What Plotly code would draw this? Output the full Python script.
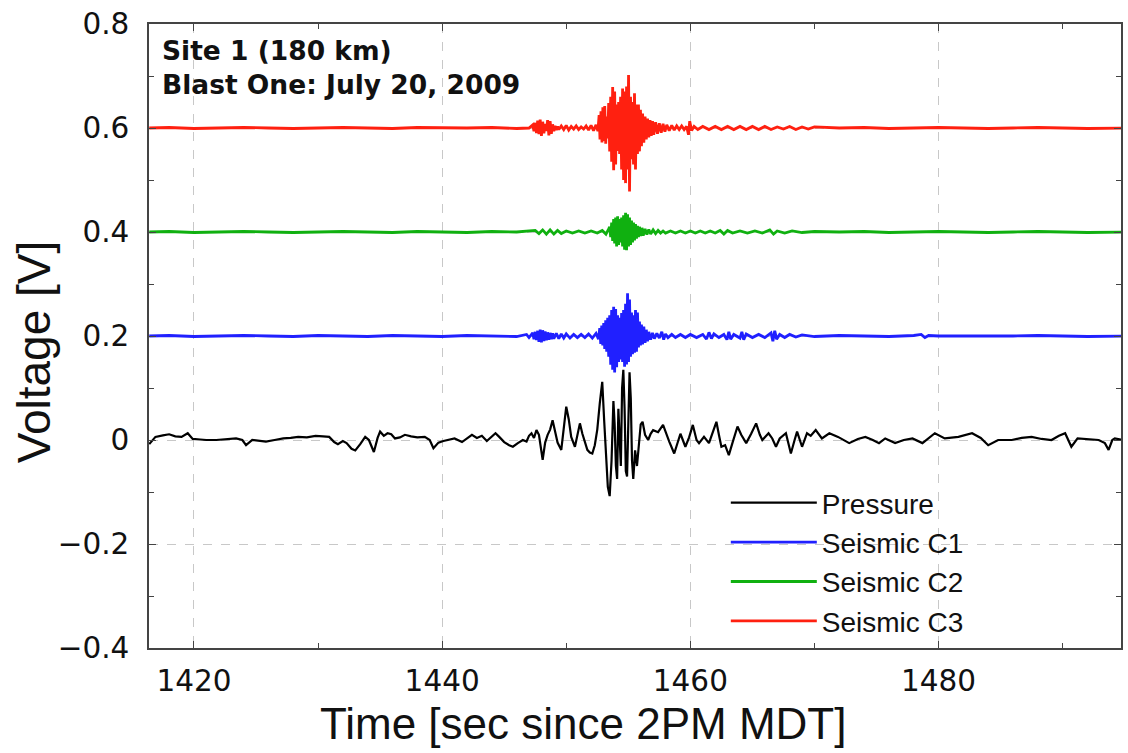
import plotly.graph_objects as go

# ---------------- data ----------------
pressure_t = [1416.4, 1416.9, 1417.5, 1418.0, 1418.5, 1419.0, 1419.5, 1419.9, 1420.5, 1421.0,
              1421.8, 1422.6, 1423.4, 1423.9, 1424.2, 1424.7, 1425.2, 1425.8, 1426.5, 1427.2,
              1427.8, 1428.4, 1429.1, 1429.8, 1430.4, 1430.9, 1431.3, 1431.6, 1432.0, 1432.3,
              1432.7, 1433.0, 1433.4, 1433.8, 1434.1, 1434.5, 1434.8, 1435.0, 1435.3, 1435.6,
              1435.9, 1436.2, 1436.6, 1437.0, 1437.5, 1438.0, 1438.6, 1439.0, 1439.3, 1439.7,
              1440.1, 1440.5, 1441.0, 1441.6, 1442.0, 1442.4, 1442.8, 1443.2, 1443.6, 1444.0,
              1444.3, 1444.6, 1445.0, 1445.4, 1445.7, 1446.1, 1446.5, 1446.8, 1447.0, 1447.2,
              1447.4, 1447.6, 1447.8, 1448.1, 1448.3, 1448.5, 1448.7, 1448.9, 1449.1, 1449.3,
              1449.6, 1449.8, 1450.0, 1450.2, 1450.4, 1450.7, 1450.9, 1451.1, 1451.3, 1451.5,
              1451.7, 1451.9, 1452.1, 1452.3, 1452.5, 1452.7, 1452.9, 1453.05, 1453.2, 1453.35,
              1453.5, 1453.65, 1453.8, 1453.9, 1454.0, 1454.1, 1454.2, 1454.3, 1454.4, 1454.5,
              1454.6, 1454.7, 1454.8, 1454.9, 1455.0, 1455.1, 1455.2, 1455.3, 1455.4, 1455.55,
              1455.7, 1455.85, 1456.0, 1456.15, 1456.35, 1456.6, 1456.8, 1457.0, 1457.4, 1457.8,
              1458.0, 1458.3, 1458.7, 1459.0, 1459.2, 1459.6, 1459.9, 1460.2, 1460.5, 1460.7,
              1461.1, 1461.5, 1461.8, 1462.1, 1462.3, 1462.5, 1462.8, 1463.1, 1463.4, 1463.8,
              1464.1, 1464.5, 1464.9, 1465.3, 1465.6, 1465.8, 1466.3, 1466.6, 1466.9, 1467.2,
              1467.7, 1468.1, 1468.4, 1468.6, 1469.0, 1469.4, 1469.7, 1470.1, 1470.6, 1471.2,
              1471.9, 1472.8, 1473.5, 1474.1, 1474.7, 1475.2, 1475.7, 1476.5, 1477.2, 1477.9,
              1478.7, 1479.7, 1480.5, 1481.6, 1482.7, 1483.4, 1484.0, 1484.8, 1485.9, 1486.7,
              1487.5, 1488.3, 1489.1, 1489.7, 1490.2, 1490.7, 1491.2, 1492.0, 1492.9, 1493.4,
              1493.7, 1494.0, 1494.2, 1494.9]
pressure_v = [-0.008, 0.006, 0.009, 0.011, 0.007, 0.006, 0.013, 0.002, 0.001, 0.000,
              0.000, 0.002, 0.003, 0.000, -0.010, 0.000, -0.002, -0.003, 0.000, 0.003,
              0.004, 0.006, 0.005, 0.008, 0.007, 0.006, -0.004, -0.008, -0.002, -0.006,
              -0.017, -0.020, -0.008, 0.006, 0.000, -0.023, 0.004, 0.016, 0.008, 0.013,
              0.011, 0.003, 0.005, 0.010, 0.007, 0.005, 0.006, 0.000, -0.016, -0.005,
              -0.002, 0.000, 0.003, -0.004, 0.003, 0.010, 0.004, 0.008, -0.002, 0.006,
              0.013, 0.006, -0.004, -0.010, -0.013, -0.006, 0.000, -0.003, 0.008, 0.013,
              0.004, 0.019, 0.010, -0.038, -0.005, 0.010, 0.020, 0.038, 0.015, -0.005,
              -0.019, 0.020, 0.064, 0.040, 0.006, -0.013, 0.010, 0.032, 0.012, -0.005,
              -0.019, -0.024, -0.026, -0.010, 0.020, 0.070, 0.112, 0.040, -0.040, -0.090,
              -0.108, -0.040, 0.075, 0.030, -0.050, -0.075, 0.060, 0.000, -0.050, 0.100,
              0.135, 0.060, -0.060, -0.070, 0.020, 0.130, 0.080, -0.040, -0.075, -0.020,
              -0.050, 0.000, 0.030, 0.035, 0.010, 0.000, 0.012, 0.019, 0.015, 0.029,
              0.015, -0.003, -0.026, -0.005, 0.012, -0.013, 0.005, 0.029, 0.000, -0.006,
              0.006, -0.006, 0.015, 0.035, 0.010, -0.013, -0.010, -0.029, -0.005, 0.026,
              0.010, -0.006, 0.012, 0.032, 0.010, 0.000, 0.013, 0.003, -0.013, 0.003,
              0.013, -0.026, 0.000, 0.016, -0.013, 0.013, 0.008, 0.019, 0.003, 0.013,
              0.006, -0.006, 0.002, 0.006, 0.000, -0.006, 0.003, -0.006, 0.000, 0.003,
              -0.006, 0.013, 0.003, 0.006, 0.013, 0.004, -0.010, 0.000, 0.000, 0.004,
              0.006, 0.002, 0.000, 0.008, 0.013, -0.013, 0.003, 0.002, 0.000, -0.006,
              -0.019, 0.000, 0.003, 0.000]

c1_t = [1416.4, 1418, 1420, 1422, 1424, 1426, 1428, 1430, 1432, 1434, 1436, 1438, 1440, 1442, 1444, 1446,
        1446.8, 1447.0, 1447.3, 1447.4, 1447.5, 1447.6, 1447.7, 1447.8, 1447.9, 1448.0, 1448.1, 1448.2,
        1448.3, 1448.4, 1448.5, 1448.6, 1448.7, 1448.8, 1448.9, 1449.0, 1449.2, 1449.4, 1449.6, 1449.8,
        1450.0, 1450.3, 1450.6, 1450.9, 1451.2, 1451.5, 1451.8, 1452.1, 1452.4, 1452.6,
        1452.7, 1452.78, 1452.86, 1452.94, 1453.02, 1453.1, 1453.18, 1453.26, 1453.34, 1453.42,
        1453.5, 1453.58, 1453.66, 1453.74, 1453.82, 1453.9, 1453.98, 1454.06, 1454.14, 1454.22,
        1454.3, 1454.38, 1454.46, 1454.54, 1454.62, 1454.7, 1454.78, 1454.86, 1454.94, 1455.02,
        1455.1, 1455.18, 1455.26, 1455.34, 1455.42, 1455.5, 1455.58, 1455.66, 1455.74, 1455.82,
        1455.9, 1455.98, 1456.06, 1456.15, 1456.25, 1456.35, 1456.45, 1456.55, 1456.65, 1456.8,
        1456.95, 1457.1, 1457.3, 1457.5, 1457.7, 1457.85, 1458.0, 1458.2, 1458.5, 1458.8,
        1459.2, 1459.6, 1460.0, 1460.5, 1461.0, 1461.3, 1461.5, 1461.7, 1461.9, 1462.3,
        1462.7, 1462.95, 1463.1, 1463.25, 1463.5, 1464.0, 1464.15, 1464.3, 1464.5, 1465.0,
        1465.5, 1466.0, 1466.5, 1466.65, 1466.8, 1466.95, 1467.2, 1467.6, 1468.0, 1468.5,
        1469.0, 1470.0, 1472, 1474, 1476, 1478, 1478.6, 1478.9, 1479.2, 1480, 1482, 1484, 1486, 1488,
        1490, 1492, 1494.9]
c1_v = [0.200, 0.201, 0.199, 0.200, 0.201, 0.200, 0.199, 0.201, 0.200, 0.199, 0.201, 0.200, 0.199, 0.201, 0.200, 0.199,
        0.203, 0.197, 0.206, 0.194, 0.208, 0.192, 0.210, 0.189, 0.212, 0.188, 0.211, 0.190,
        0.209, 0.192, 0.207, 0.193, 0.206, 0.194, 0.205, 0.195, 0.205, 0.195, 0.204, 0.196,
        0.204, 0.196, 0.203, 0.197, 0.203, 0.197, 0.204, 0.196, 0.205, 0.194,
        0.215, 0.185, 0.220, 0.182, 0.225, 0.175, 0.230, 0.170, 0.235, 0.160,
        0.240, 0.145, 0.250, 0.135, 0.256, 0.130, 0.252, 0.140, 0.240, 0.150,
        0.235, 0.155, 0.244, 0.150, 0.250, 0.141, 0.262, 0.145, 0.282, 0.150,
        0.270, 0.160, 0.245, 0.165, 0.240, 0.168, 0.250, 0.170, 0.245, 0.178,
        0.228, 0.182, 0.222, 0.184, 0.218, 0.187, 0.212, 0.190, 0.208, 0.193,
        0.206, 0.195, 0.205, 0.196, 0.208, 0.193, 0.204, 0.197, 0.203, 0.197,
        0.203, 0.197, 0.203, 0.197, 0.203, 0.194, 0.207, 0.195, 0.204, 0.197,
        0.203, 0.193, 0.208, 0.194, 0.203, 0.196, 0.208, 0.193, 0.204, 0.197,
        0.203, 0.197, 0.206, 0.190, 0.210, 0.194, 0.203, 0.197, 0.203, 0.198,
        0.202, 0.199, 0.201, 0.200, 0.199, 0.201, 0.203, 0.197, 0.201, 0.200, 0.200, 0.199, 0.200, 0.201,
        0.200, 0.199, 0.200]

c2_t = [1416.4, 1418, 1420, 1422, 1424, 1426, 1428, 1430, 1432, 1434, 1436, 1438, 1440, 1442, 1444, 1446,
        1447.5, 1447.8, 1448.1, 1448.4, 1448.7, 1449.0, 1449.3, 1449.6, 1450.0, 1450.5, 1451.0, 1451.5,
        1452.0, 1452.5, 1452.9, 1453.2, 1453.4,
        1453.5, 1453.58, 1453.66, 1453.74, 1453.82, 1453.9, 1453.98, 1454.06, 1454.14, 1454.22,
        1454.3, 1454.38, 1454.46, 1454.54, 1454.62, 1454.7, 1454.78, 1454.86, 1454.94, 1455.02,
        1455.1, 1455.18, 1455.26, 1455.34, 1455.42, 1455.5, 1455.58, 1455.66, 1455.74, 1455.82,
        1455.9, 1456.0, 1456.1, 1456.2, 1456.35, 1456.5, 1456.65, 1456.8, 1457.0, 1457.2,
        1457.4, 1457.6, 1457.8,
        1458.0, 1458.4, 1458.8, 1459.2, 1459.6, 1460.0, 1460.4, 1460.8, 1461.2, 1461.6,
        1462.0, 1462.4, 1462.7, 1463.0, 1463.4, 1464.0, 1464.6, 1465.2, 1465.8, 1466.4,
        1466.7, 1467.0, 1467.6, 1468.2, 1469.0, 1470.0, 1472, 1474, 1476, 1478, 1480, 1482,
        1484, 1486, 1488, 1490, 1492, 1494.9]
c2_v = [0.400, 0.401, 0.399, 0.400, 0.401, 0.400, 0.399, 0.400, 0.401, 0.400, 0.399, 0.401, 0.400, 0.399, 0.401, 0.400,
        0.403, 0.397, 0.404, 0.396, 0.404, 0.396, 0.403, 0.397, 0.402, 0.398, 0.402, 0.398,
        0.402, 0.398, 0.403, 0.396, 0.405,
        0.410, 0.390, 0.418, 0.383, 0.425, 0.378, 0.428, 0.372, 0.430, 0.375,
        0.425, 0.380, 0.428, 0.372, 0.432, 0.366, 0.437, 0.365, 0.434, 0.372,
        0.428, 0.375, 0.422, 0.380, 0.418, 0.384, 0.415, 0.387, 0.412, 0.390,
        0.410, 0.392, 0.408, 0.393, 0.406, 0.395, 0.405, 0.396, 0.404, 0.397,
        0.403, 0.398, 0.402,
        0.398, 0.402, 0.398, 0.402, 0.398, 0.402, 0.398, 0.402, 0.398, 0.402,
        0.398, 0.403, 0.396, 0.403, 0.398, 0.402, 0.398, 0.402, 0.398, 0.404,
        0.396, 0.402, 0.398, 0.402, 0.399, 0.401, 0.400, 0.401, 0.399, 0.400, 0.401, 0.400,
        0.399, 0.400, 0.401, 0.400, 0.399, 0.400]

c3_t = [1416.4, 1418, 1420, 1422, 1424, 1426, 1428, 1430, 1432, 1434, 1436, 1438, 1440, 1442, 1444, 1446, 1447.0,
        1447.3, 1447.4, 1447.5, 1447.6, 1447.7, 1447.8, 1447.9, 1448.0, 1448.1, 1448.2, 1448.3, 1448.4,
        1448.5, 1448.6, 1448.7, 1448.8, 1448.9, 1449.0, 1449.1, 1449.2, 1449.3, 1449.4,
        1449.6, 1449.8, 1450.0, 1450.2, 1450.4, 1450.6, 1450.8, 1451.0, 1451.2, 1451.4, 1451.6, 1451.8,
        1452.0, 1452.2, 1452.4, 1452.55,
        1452.65, 1452.72, 1452.8, 1452.88, 1452.95, 1453.02, 1453.1, 1453.18, 1453.26, 1453.34,
        1453.42, 1453.5, 1453.58, 1453.66, 1453.74, 1453.82, 1453.9, 1453.98, 1454.06, 1454.14,
        1454.22, 1454.3, 1454.38, 1454.46, 1454.54, 1454.62, 1454.7, 1454.78, 1454.86, 1454.94,
        1455.02, 1455.1, 1455.18, 1455.26, 1455.34, 1455.42, 1455.5, 1455.58, 1455.66, 1455.74,
        1455.82, 1455.9, 1455.98, 1456.06, 1456.15, 1456.25, 1456.35, 1456.45, 1456.55, 1456.65,
        1456.75, 1456.85, 1456.95, 1457.05, 1457.2, 1457.35, 1457.5, 1457.65, 1457.8, 1457.95,
        1458.1, 1458.3, 1458.5, 1458.7, 1458.9, 1459.1, 1459.3, 1459.5, 1459.7, 1459.85,
        1459.95, 1460.1, 1460.3, 1460.6, 1461.0, 1461.5, 1462.0, 1462.5, 1463.0, 1463.5,
        1464.0, 1464.5, 1465.0, 1465.5, 1466.0, 1466.5, 1467.0, 1467.5, 1468.0, 1468.5,
        1469.0, 1469.5, 1470.0, 1472, 1474, 1476, 1478, 1480, 1482, 1484, 1486, 1488, 1490,
        1492, 1494.9]
c3_v = [0.600, 0.601, 0.599, 0.600, 0.601, 0.600, 0.599, 0.600, 0.601, 0.600, 0.599, 0.601, 0.600, 0.600, 0.601, 0.599, 0.600,
        0.606, 0.594, 0.610, 0.590, 0.614, 0.588, 0.616, 0.585, 0.612, 0.590, 0.608, 0.594,
        0.615, 0.586, 0.613, 0.589, 0.607, 0.594, 0.604, 0.596, 0.603, 0.597,
        0.604, 0.597, 0.605, 0.596, 0.603, 0.598, 0.604, 0.597, 0.602, 0.598, 0.604, 0.596,
        0.605, 0.595, 0.606, 0.594,
        0.625, 0.578, 0.632, 0.572, 0.640, 0.575, 0.642, 0.570, 0.622, 0.580,
        0.648, 0.555, 0.660, 0.535, 0.679, 0.519, 0.670, 0.530, 0.645, 0.556,
        0.650, 0.550, 0.660, 0.520, 0.676, 0.500, 0.670, 0.494, 0.680, 0.520,
        0.702, 0.478, 0.660, 0.540, 0.650, 0.530, 0.667, 0.520, 0.645, 0.550,
        0.645, 0.555, 0.635, 0.565, 0.628, 0.572, 0.622, 0.578, 0.618, 0.582,
        0.615, 0.585, 0.613, 0.587, 0.611, 0.589, 0.609, 0.591, 0.608, 0.593,
        0.606, 0.595, 0.605, 0.596, 0.604, 0.597, 0.604, 0.597, 0.603, 0.587,
        0.613, 0.595, 0.603, 0.597, 0.603, 0.597, 0.603, 0.597, 0.603, 0.597,
        0.603, 0.597, 0.603, 0.597, 0.603, 0.597, 0.602, 0.598, 0.603, 0.597,
        0.602, 0.598, 0.602, 0.600, 0.601, 0.599, 0.600, 0.601, 0.600, 0.599, 0.600, 0.601, 0.600,
        0.599, 0.600]

x_ticks = [1420, 1440, 1460, 1480]
y_ticks = [-0.4, -0.2, 0, 0.2, 0.4, 0.6, 0.8]
y_labels = ["\u22120.4", "\u22120.2", "0", "0.2", "0.4", "0.6", "0.8"]

# ---------------- figure ----------------
fig = go.Figure()
fig.add_trace(go.Scatter(x=c1_t, y=c1_v, mode="lines", name="Seismic C1",
                         line=dict(color="#2020ff", width=2.8), legendrank=2))
fig.add_trace(go.Scatter(x=c2_t, y=c2_v, mode="lines", name="Seismic C2",
                         line=dict(color="#10b010", width=2.8), legendrank=3))
fig.add_trace(go.Scatter(x=c3_t, y=c3_v, mode="lines", name="Seismic C3",
                         line=dict(color="#ff2010", width=2.8), legendrank=4))
fig.add_trace(go.Scatter(x=pressure_t, y=pressure_v, mode="lines", name="Pressure",
                         line=dict(color="black", width=2.2), legendrank=1))

L, R, T, B = 149, 5, 24, 105
W, H = 1128, 753
pw, ph = W - L - R, H - T - B

def px(x):
    return (x - L) / pw

def py(y):
    return (H - B - y) / ph

axis_common = dict(showline=True, linecolor="#444444", linewidth=1.5, mirror="ticks",
                   ticks="inside", ticklen=7, tickwidth=1, tickcolor="#444444",
                   showgrid=True, gridcolor="#c8c8c8", griddash="dash", gridwidth=1,
                   zeroline=False,
                   tickfont=dict(family="DejaVu Sans", size=29.5, color="#111111"))

fig.update_layout(
    width=W, height=H,
    margin=dict(l=L, r=R, t=T, b=B),
    paper_bgcolor="white", plot_bgcolor="white",
    showlegend=True,
    legend=dict(x=px(727), y=py(478), xanchor="left", yanchor="top",
                bgcolor="rgba(0,0,0,0)", borderwidth=0, itemwidth=86,
                font=dict(family="Liberation Sans, Arial", size=28, color="#111111"),
                tracegroupgap=0),
    xaxis=dict(range=[1416.38, 1494.7], tickvals=x_ticks, ticklabelstandoff=6,
               minor=dict(dtick=10, tick0=1420, ticks="inside", ticklen=5, tickcolor="#444444",
                          showgrid=False),
               **axis_common),
    yaxis=dict(range=[-0.4, 0.8], tickvals=y_ticks, ticktext=y_labels, ticklabelstandoff=12,
               minor=dict(dtick=0.1, tick0=0, ticks="inside", ticklen=5, tickcolor="#444444",
                          showgrid=False),
               **axis_common),
    annotations=[
        dict(text="<b>Site 1 (180 km)</b><br><b>Blast One: July 20, 2009</b>",
             xref="paper", yref="paper", x=px(160), y=py(33), xanchor="left", yanchor="top",
             align="left", showarrow=False,
             font=dict(family="DejaVu Sans", size=26.5, color="#111111")),
        dict(text="Time [sec since 2PM MDT]", xref="paper", yref="paper",
             x=px(584), y=py(723), xanchor="center", yanchor="middle", showarrow=False,
             font=dict(family="Liberation Sans, Arial", size=44, color="#111111")),
        dict(text="Voltage [V]", xref="paper", yref="paper", textangle=-90,
             x=px(34), y=py(352), xanchor="center", yanchor="middle", showarrow=False,
             font=dict(family="Liberation Sans, Arial", size=46, color="#111111")),
    ],
)

fig.write_html("out.html")
